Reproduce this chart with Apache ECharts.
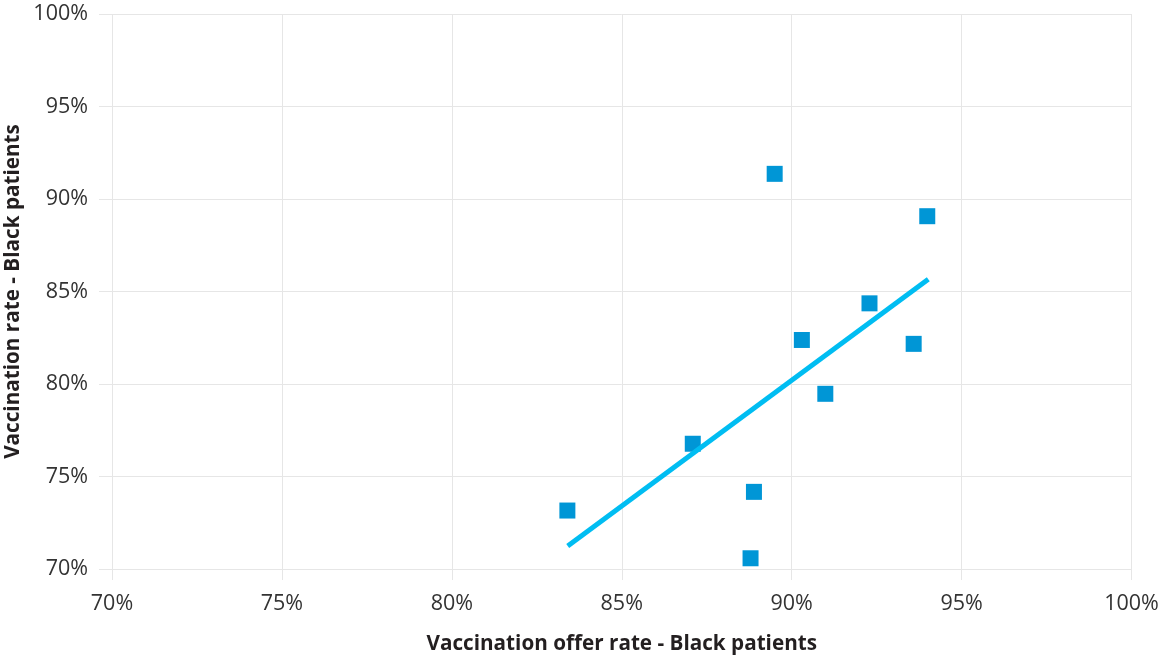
<!DOCTYPE html>
<html>
<head>
<meta charset="utf-8">
<script src="https://cdn.jsdelivr.net/npm/echarts@6/dist/echarts.min.js"></script>
<style>
html,body{margin:0;padding:0;background:#fff;}
#chart{width:1159px;height:656px;}
</style>
</head>
<body>
<div id="chart"></div>
<script>
// Vaccination offer rate (x, %) and vaccination rate (y, %) - Black patients
const offerRate = [83.40, 87.09, 88.79, 88.89, 89.50, 90.30, 90.99, 92.29, 93.59, 93.99];
const vaccRate  = [73.16, 76.77, 70.58, 74.17, 91.36, 82.38, 79.47, 84.36, 82.17, 89.07];
// Trend line end points
const trendX = [83.41, 94.02];
const trendY = [71.24, 85.66];
const xTicks = [70, 75, 80, 85, 90, 95, 100];
const yTicks = [70, 75, 80, 85, 90, 95, 100];

const points = offerRate.map((x, i) => [x, vaccRate[i]]);
const trend = trendX.map((x, i) => [x, trendY[i]]);

const gridColor = '#e6e6e6';
const labelStyle = {color: '#333333', fontFamily: 'Open Sans', fontSize: 21.5};
const nameStyle = {color: '#231f20', fontFamily: 'Open Sans', fontSize: 20.7, fontWeight: 'bold'};

const chart = echarts.init(document.getElementById('chart'));
chart.setOption({
  animation: false,
  grid: {left: 112, right: 27.5, top: 14, bottom: 87, containLabel: false, outerBoundsMode: 'none'},
  xAxis: {
    type: 'value',
    min: xTicks[0], max: xTicks[xTicks.length - 1], interval: 5,
    name: 'Vaccination offer rate - Black patients',
    nameLocation: 'middle', nameGap: 65, nameMoveOverlap: false,
    nameTextStyle: nameStyle,
    axisLine: {show: false},
    axisTick: {show: true, length: 11, lineStyle: {color: gridColor}},
    axisLabel: Object.assign({margin: 24, formatter: '{value}%'}, labelStyle),
    splitLine: {show: true, lineStyle: {color: gridColor, width: 1}}
  },
  yAxis: {
    type: 'value',
    min: yTicks[0], max: yTicks[yTicks.length - 1], interval: 5,
    name: 'Vaccination rate - Black patients',
    nameLocation: 'middle', nameGap: 88, nameMoveOverlap: false,
    nameTextStyle: nameStyle,
    axisLine: {show: false},
    axisTick: {show: true, length: 13, lineStyle: {color: gridColor}},
    axisLabel: Object.assign({margin: 24, formatter: '{value}%'}, labelStyle),
    splitLine: {show: true, lineStyle: {color: gridColor, width: 1}}
  },
  series: [
    {
      type: 'scatter',
      data: points,
      symbol: 'rect',
      symbolSize: 16,
      itemStyle: {color: '#0096d6', opacity: 1},
      z: 2
    },
    {
      type: 'line',
      data: trend,
      symbol: 'none',
      lineStyle: {color: '#00bdf2', width: 5, cap: 'butt'},
      z: 3
    }
  ]
});
</script>
</body>
</html>
